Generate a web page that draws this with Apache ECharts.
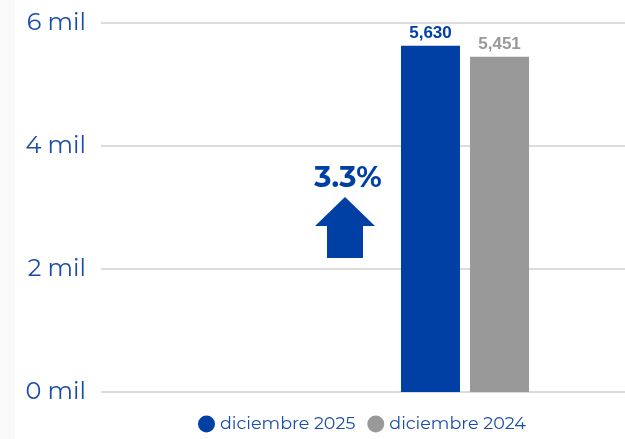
<!DOCTYPE html>
<html>
<head>
<meta charset="utf-8">
<script src="https://cdn.jsdelivr.net/npm/echarts@6/dist/echarts.min.js"></script>
<style>
  html, body { margin: 0; padding: 0; background: #fff; }
  #chart { width: 625px; height: 439px; }
</style>
</head>
<body>
<div id="chart"></div>
<script>
const periodo = ['diciembre'];
const series_names = ['diciembre 2025', 'diciembre 2024'];
const valores_2025 = [5630];
const valores_2024 = [5451];
const variacion = '3.3%';

const azul = '#0040a4';
const gris = '#999999';

let chart = echarts.init(document.getElementById('chart'));

function barLabel(color) {
    return {
        show: true,
        position: 'top',
        distance: 4,
        color: color,
        fontFamily: 'Liberation Sans Narrow, Liberation Sans, sans-serif',
        fontWeight: 'bold',
        fontSize: 17,
        formatter: function (p) { return p.value.toLocaleString('en-US'); }
    };
}

let option = {
    animation: false,
    backgroundColor: '#fff',
    grid: [
        { left: 101, right: 0, top: 23, bottom: 47 },
        { left: 305, right: 0, top: 23, bottom: 47 }
    ],
    legend: {
        bottom: 1,
        left: 193,
        icon: 'circle',
        itemWidth: 17,
        itemHeight: 17,
        itemGap: 12,
        textStyle: { color: '#1a4da6', fontSize: 17.5, fontFamily: 'Montserrat, Noto Sans, sans-serif' },
        data: series_names
    },
    xAxis: [
        { gridIndex: 0, type: 'category', data: periodo, show: false },
        { gridIndex: 1, type: 'category', data: periodo, show: false }
    ],
    yAxis: [
        {
            gridIndex: 0, type: 'value', min: 0, max: 6000, interval: 2000,
            axisLine: { show: false }, axisTick: { show: false },
            splitLine: { lineStyle: { color: '#d0d0d0', width: 1.5 } },
            axisLabel: {
                margin: 15, color: '#1a4da6', fontSize: 24,
                fontFamily: 'Montserrat, Noto Sans, sans-serif',
                formatter: function (v) { return (v / 1000) + ' mil'; }
            }
        },
        { gridIndex: 1, type: 'value', min: 0, max: 6000, interval: 2000, show: false }
    ],
    series: [
        {
            name: series_names[0], type: 'bar', xAxisIndex: 1, yAxisIndex: 1,
            data: valores_2025, barWidth: 59, barGap: '17%',
            itemStyle: { color: azul }, label: barLabel(azul)
        },
        {
            name: series_names[1], type: 'bar', xAxisIndex: 1, yAxisIndex: 1,
            data: valores_2024, barWidth: 59,
            itemStyle: { color: gris }, label: barLabel(gris)
        }
    ],
    graphic: [
        {
            type: 'rect', left: 0, top: 0, z: -10,
            shape: { width: 15, height: 439 },
            style: { fill: '#f9f9f9' }
        },
        {
            type: 'text', x: 348, y: 178,
            style: {
                text: variacion, fill: azul, fontSize: 29, fontWeight: 'bold',
                fontFamily: 'Montserrat, Noto Sans, sans-serif',
                align: 'center', verticalAlign: 'middle'
            }
        },
        {
            type: 'polygon',
            shape: { points: [[345, 197], [375, 226], [363, 226], [363, 258], [327, 258], [327, 226], [315, 226]] },
            style: { fill: azul }
        }
    ]
};
chart.setOption(option);
</script>
</body>
</html>
